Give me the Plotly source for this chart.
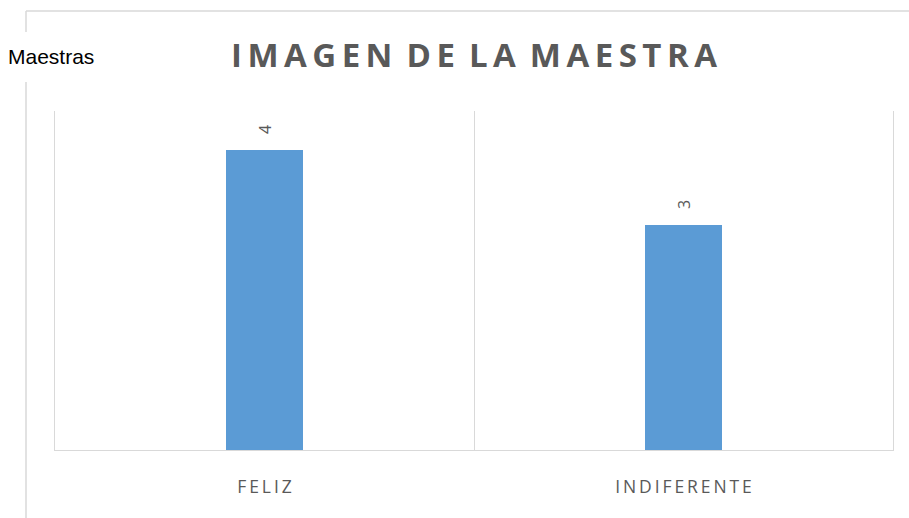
import plotly.graph_objects as go

# chart data
categorias = ["FELIZ", "INDIFERENTE"]
maestras = [4, 3]
titulo = "IMAGEN DE LA MAESTRA"
serie = "Maestras"

W, H = 909, 518
L, R, T, B = 55, 16, 111, 68
GRIS = "#595959"
LINEA = "#D9D9D9"


def espaciar(txt, hueco="\u2009"):
    # Excel style letter spacing, done with narrow spaces
    return (hueco + " ").join(hueco.join(p) for p in txt.split(" "))


def px_x(px):
    return (px - L) / (W - L - R)


def px_y(py):
    return (H - B - py) / (H - T - B)


fig = go.Figure()
fig.add_trace(go.Bar(x=categorias, y=maestras, width=0.184,
                     marker_color="#5B9BD5", marker_line_width=0, name=serie))

# rotated value labels above each bar
for c, v in zip(categorias, maestras):
    fig.add_annotation(x=c, y=v, text=str(v), showarrow=False, textangle=-90,
                       yanchor="bottom", yshift=14,
                       font=dict(family="Open Sans", size=16, color=GRIS))

# series name at the top left, over the frame
fig.add_annotation(xref="paper", yref="paper", x=px_x(6), y=px_y(57),
                   xanchor="left", yanchor="middle", text=serie, showarrow=False,
                   font=dict(family="Liberation Sans, Arial", size=21, color="black"))

# outer frame (top and left, the left one broken by the label)
marco = dict(color=LINEA, width=1.5)
fig.add_shape(type="line", xref="paper", yref="paper", x0=px_x(26), x1=px_x(W),
              y0=px_y(11), y1=px_y(11), line=marco)
fig.add_shape(type="line", xref="paper", yref="paper", x0=px_x(26), x1=px_x(26),
              y0=px_y(11), y1=px_y(32), line=marco)
fig.add_shape(type="line", xref="paper", yref="paper", x0=px_x(26), x1=px_x(26),
              y0=px_y(82), y1=px_y(H), line=marco)

fig.update_layout(
    width=W, height=H,
    margin=dict(l=L, r=R, t=T, b=B),
    plot_bgcolor="white", paper_bgcolor="white",
    showlegend=False,
    title=dict(text=espaciar(titulo), x=0.5, xref="paper", xanchor="center",
               y=1 - 55 / H, yref="container", yanchor="middle",
               font=dict(family="Open Sans", size=33, color=GRIS, weight="bold")),
    bargap=0,
)
fig.update_xaxes(tickvals=categorias, ticktext=[espaciar(c) for c in categorias],
                 tickson="boundaries", showgrid=True, gridcolor=LINEA, gridwidth=1,
                 showline=True, linecolor=LINEA, linewidth=1,
                 ticks="", ticklabelstandoff=21,
                 tickfont=dict(family="Open Sans", size=17.5, color=GRIS))
fig.update_yaxes(range=[0, 4.52], showgrid=False, showticklabels=False,
                 zeroline=False, showline=True, mirror=True, linecolor=LINEA,
                 linewidth=1)

# page body has an 8px default margin; drop it so the chart sits at 0,0
fig.write_html("out.html", config={"displayModeBar": False},
               post_script="document.body.style.margin='0';")
